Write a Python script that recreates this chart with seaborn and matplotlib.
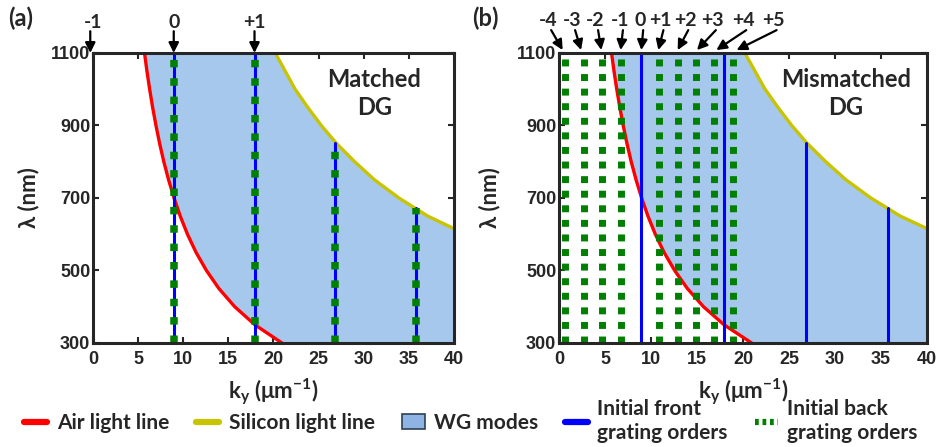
import numpy as np
import seaborn as sns
import matplotlib.pyplot as plt
from matplotlib.patches import Patch
from matplotlib.lines import Line2D

# ── data ──────────────────────────────────────────────────────
lam_nm = [1100, 1050, 1000, 950, 900, 850, 800, 750, 700, 650, 600,
          550, 500, 450, 400, 350, 300]
air_k = [5.71, 5.98, 6.28, 6.61, 6.98, 7.39, 7.85, 8.38, 8.98, 9.67, 10.47,
         11.42, 12.57, 13.96, 15.71, 17.95, 20.94]
si_k = [20.2, 21.3, 22.4, 23.8, 25.3, 27.0, 29.0, 31.2, 33.9, 37.1, 41.3,
        46.7, 53.9, 65.2, 87.5, 97.7, 104.7]

front_k = [8.95, 17.9, 26.85, 35.8]
front_top = [1100, 1100, 852, 672]          # where each order meets the Si line
back_k_b = [0.6, 2.7, 4.7, 6.7, 10.9, 12.9, 14.9, 16.8, 18.9]

orders_a = ['-1', '0', '+1']
orders_a_k = [0.0, 8.95, 17.9]
orders_b = ['-4', '-3', '-2', '-1', '0', '+1', '+2', '+3', '+4', '+5']
orders_b_k = [0.4, 2.4, 4.6, 6.7, 8.95, 10.8, 12.9, 15.0, 17.1, 19.3]
orders_b_lbl = [-1.2, 1.4, 3.9, 6.6, 8.8, 11.0, 13.7, 16.7, 20.0, 23.3]

RED, YEL, BLUE, GREEN, FILL = '#FF0000', '#C8C400', '#0000FF', '#008000', '#A6C8EC'

sns.set_style('ticks')
plt.rcParams['font.family'] = ['Liberation Sans', 'DejaVu Sans']
plt.rcParams['mathtext.fontset'] = 'custom'
plt.rcParams['mathtext.rm'] = 'Lato'
plt.rcParams['mathtext.bf'] = 'Lato:bold'
LAB = ['Lato', 'Open Sans', 'DejaVu Sans']

fig = plt.figure(figsize=(9.42, 4.47), dpi=100)
ax_a = fig.add_axes([0.0987, 0.2327, 0.3832, 0.6488])
ax_b = fig.add_axes([0.5934, 0.2327, 0.3907, 0.6488])

lam = np.array(lam_nm)
air = np.array(air_k)
si = np.array(si_k)


def base(ax, tag, title, ylabpad):
    ax.fill_betweenx(lam, air, si, color=FILL, lw=0, zorder=1)
    sns.lineplot(x=air, y=lam, sort=False, color=RED, lw=2.4, ax=ax, zorder=3)
    sns.lineplot(x=si, y=lam, sort=False, color=YEL, lw=2.4, ax=ax, zorder=3)
    ax.set_xlim(0, 40)
    ax.set_ylim(300, 1100)
    ax.set_xticks(range(0, 41, 5))
    ax.set_yticks(range(300, 1101, 200))
    ax.tick_params(direction='in', length=4, width=1.5, top=True, right=True,
                   labelsize=13, pad=2)
    ax.tick_params(axis='x', pad=6)
    for lbl in ax.get_xticklabels() + ax.get_yticklabels():
        lbl.set_fontweight('bold')
    for s in ax.spines.values():
        s.set_linewidth(2.2)
        s.set_zorder(6)
    ax.set_xlabel(r'k$_{\mathbf{y}}$ (μm$^{\mathbf{-1}}$)', family=LAB,
                  fontsize=16, fontweight='bold', labelpad=6)
    ax.set_ylabel('λ (nm)', family=LAB, fontsize=16, fontweight='bold',
                  labelpad=ylabpad)
    ax.text(0.78, 0.86, title, transform=ax.transAxes, ha='center', va='center',
            family=LAB, fontsize=17, fontweight='bold', linespacing=1.25, zorder=7)
    ax.text(-0.2, 1.12, tag, transform=ax.transAxes, ha='center', va='center',
            family=LAB, fontsize=17, fontweight='bold')


def arrow(ax, tip, tail):
    ax.annotate('', xy=tip, xytext=tail, annotation_clip=False,
                arrowprops=dict(arrowstyle='-|>', color='k', lw=1.6,
                                mutation_scale=15, shrinkA=0, shrinkB=0))


# ── (a) matched double grating ────────────────────────────────
base(ax_a, '(a)', 'Matched\nDG', 8)
for k, top in zip(front_k, front_top):
    ax_a.plot([k, k], [300, top], color=BLUE, lw=2.2, zorder=4)
    ax_a.plot([k, k], [300, top], color=GREEN, lw=5.4,
              ls=(0, (1, 1.45)), zorder=5)
for name, k in zip(orders_a, orders_a_k):
    ax_a.text(k, 1183, name, ha='center', va='center', fontsize=14,
              fontweight='bold', family=LAB)
    arrow(ax_a, (k - 0.3 if k == 0 else k, 1100), (k - 0.3 if k == 0 else k, 1160))

# ── (b) mismatched double grating ─────────────────────────────
base(ax_b, '(b)', 'Mismatched\nDG', 12)
for k, top in zip(front_k, front_top):
    ax_b.plot([k, k], [300, top], color=BLUE, lw=2.2, zorder=4)
for k in back_k_b:
    ax_b.plot([k, k], [300, 1100], color=GREEN, lw=5.0,
              ls=(0, (1, 1.1)), zorder=5)
for name, k, kl in zip(orders_b, orders_b_k, orders_b_lbl):
    ax_b.text(kl, 1190, name, ha='center', va='center', fontsize=14,
              fontweight='bold', family=LAB)
    arrow(ax_b, (k, 1108), (kl + 0.35, 1163))

# ── legend ────────────────────────────────────────────────────
handles = [
    Line2D([], [], color=RED, lw=4.5),
    Line2D([], [], color=YEL, lw=4.5),
    Patch(facecolor='#8DB4E2', edgecolor='#2F3F55', lw=1.2),
    Line2D([], [], color=BLUE, lw=4.5),
    Line2D([], [], color=GREEN, lw=4.5, ls=(0, (0.6, 0.6))),
]
labels = ['Air light line', 'Silicon light line', 'WG modes',
          'Initial front\ngrating orders', 'Initial back\ngrating orders']
fig.legend(handles, labels, loc='center', bbox_to_anchor=(0.5, 0.058), ncol=5,
           frameon=False, handlelength=1.1, handletextpad=0.45,
           columnspacing=1.3, prop={'family': LAB, 'weight': 'bold', 'size': 15})

fig.savefig('out.png', dpi=100)
